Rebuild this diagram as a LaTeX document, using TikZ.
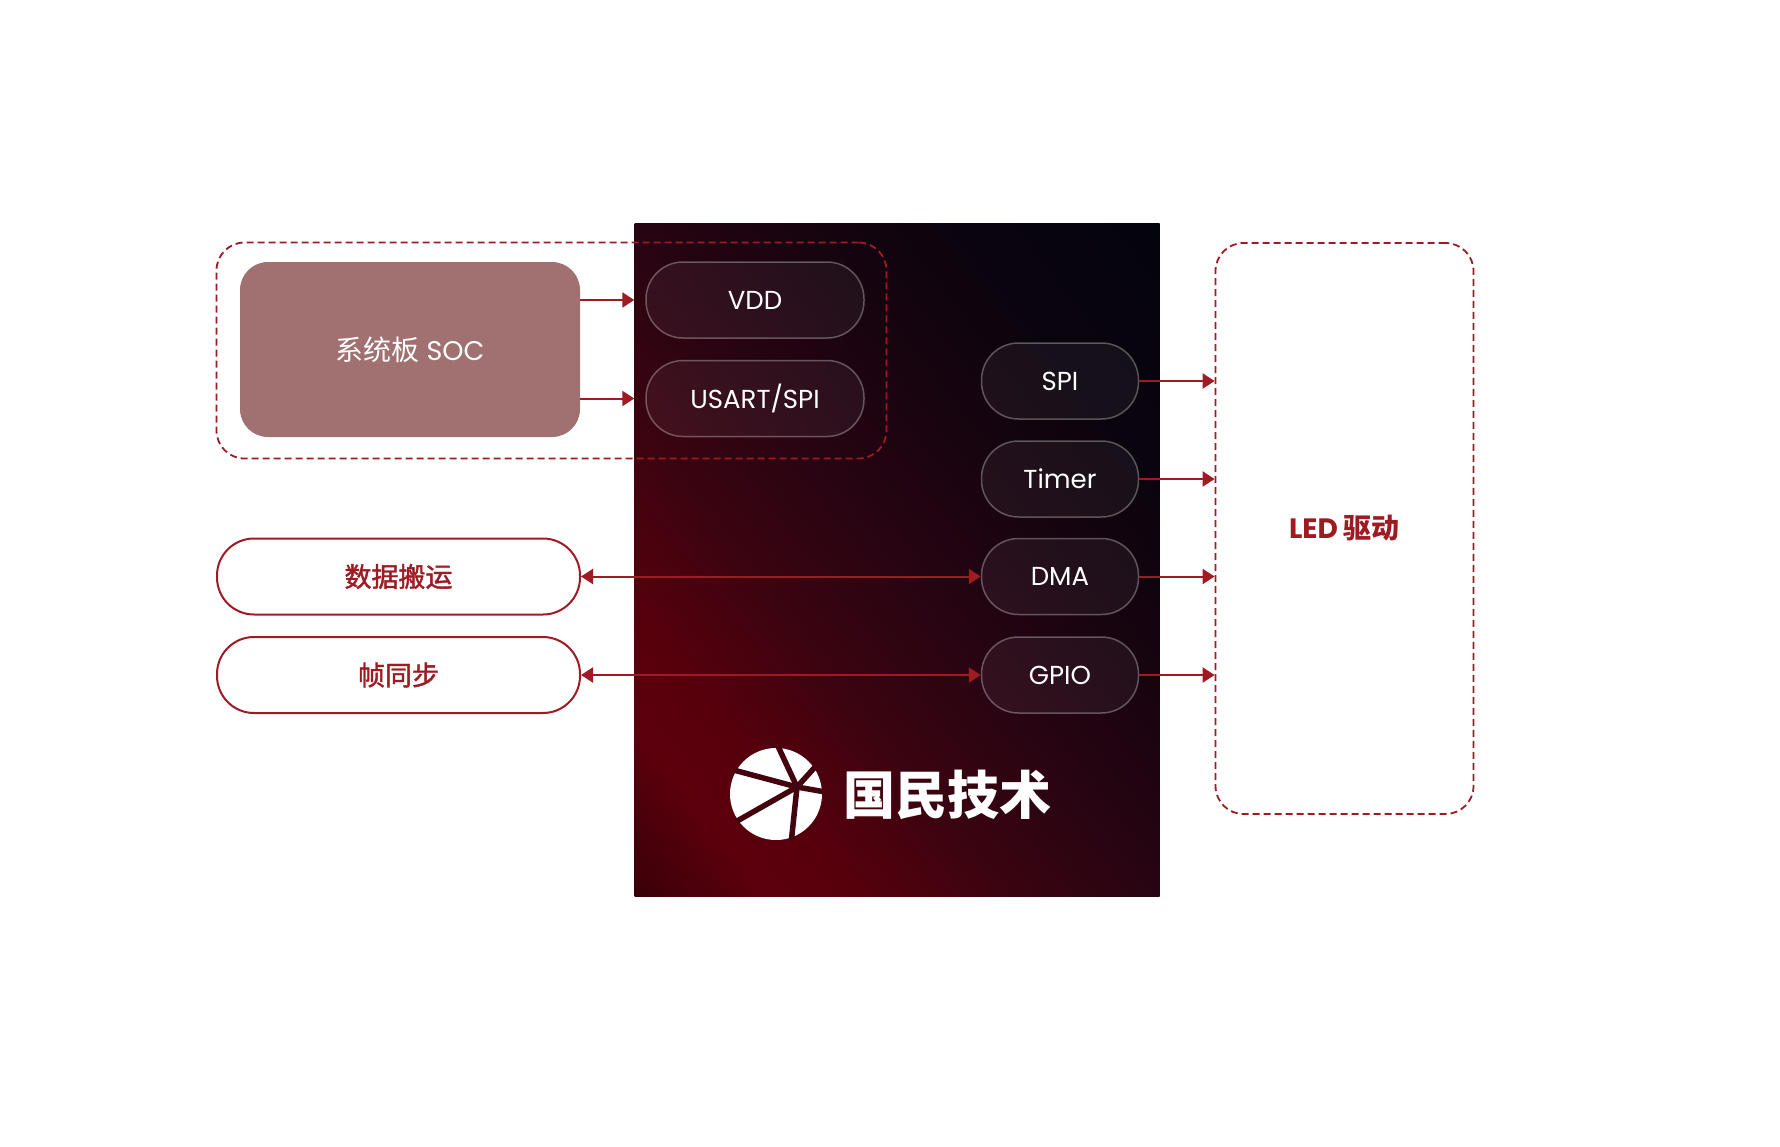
\documentclass[tikz,border=0pt]{standalone}
\usepackage{fontspec}
\setmainfont{Poppins}
\newfontfamily\cjk{Noto Sans CJK SC}
\newfontfamily\cjkmed[FakeBold=1.5]{Noto Sans CJK SC}
\usetikzlibrary{positioning, arrows.meta}
\definecolor{NationsRed}{HTML}{9E1B24}
\definecolor{SocRose}{HTML}{A07170}
\definecolor{ChipEdge}{HTML}{3A0008}
\definecolor{ChipGlow}{HTML}{5C000C}
\definecolor{ChipHot}{HTML}{56000C}
\definecolor{ChipWarm}{HTML}{3A0410}
\definecolor{ChipMid}{HTML}{280412}
\definecolor{ChipDeep}{HTML}{18040F}
\definecolor{ChipNight}{HTML}{0A040E}
\definecolor{ChipBlack}{HTML}{04040C}
\definecolor{LogoGap}{HTML}{44040F}
\pgfdeclarehorizontalshading{chipfade}{100bp}{color(0bp)=(ChipEdge); color(15bp)=(ChipEdge); color(24bp)=(ChipGlow); color(30bp)=(ChipHot); color(40bp)=(ChipWarm); color(50bp)=(ChipMid); color(60bp)=(ChipDeep); color(72bp)=(ChipNight); color(85bp)=(ChipBlack); color(100bp)=(ChipBlack)}

\begin{document}
\begin{tikzpicture}[x=1pt, y=-1pt,
    sig/.style={NationsRed, line width=2pt, -{Triangle[length=12pt,width=15pt]}},
    duplex/.style={NationsRed, line width=2pt, {Triangle[length=12pt,width=15pt]}-{Triangle[length=12pt,width=15pt]}},
    dashgroup/.style={draw=NationsRed, line width=1.8pt, dash pattern=on 7pt off 4pt, rounded corners=28pt, inner sep=0pt},
    pill/.style={draw=white, draw opacity=0.3, fill=white, fill opacity=0.05, text opacity=1, text=white, line width=1.5pt, rounded corners=37pt, minimum height=76pt, inner sep=0pt, font=\fontsize{26}{30}\selectfont},
    task/.style={draw=NationsRed, fill=white, text=NationsRed, line width=2pt, rounded corners=37pt, minimum width=363pt, minimum height=76pt, inner sep=0pt, font=\cjkmed\fontsize{27}{32}\selectfont}]
    \fill[white] (0,0) rectangle (1780,1146);

    % chip body
    \node[shading=chipfade, shading angle=38, minimum width=525pt, minimum height=673pt, inner sep=0pt] (chip) at (897,560) {};

    % system board side
    \node[dashgroup, minimum width=670pt, minimum height=216pt] (socgroup) at (551.5,350.5) {};
    \node[fill=SocRose, rounded corners=28pt, minimum width=340pt, minimum height=175pt, text=white, font=\fontsize{27}{30}\selectfont] (soc) at (410,349.5) {{\cjk\fontsize{28}{32}\selectfont 系统板} SOC};
    \node[pill, minimum width=218pt] (vdd) at (755,300) {VDD};
    \node[pill, minimum width=218pt] (usart) at (755,398.5) {USART/SPI};

    % peripherals
    \node[pill, minimum width=157pt] (spi) at (1060,381) {SPI};
    \node[pill, minimum width=157pt] (timer) at (1060,479) {Timer};
    \node[pill, minimum width=157pt] (dma) at (1060,576.5) {DMA};
    \node[pill, minimum width=157pt] (gpio) at (1060,675) {GPIO};

    \node[task] (move) at (398.5,576.5) {数据搬运};
    \node[task] (frame) at (398.5,675) {帧同步};

    \node[dashgroup, minimum width=258pt, minimum height=571pt, text=NationsRed, font=\bfseries\fontsize{28}{32}\selectfont] (led) at (1344.5,528.5) {LED {\cjk\bfseries 驱动}};

    \draw[sig] (soc.east |- vdd) -- (chip.west |- vdd);
    \draw[sig] (soc.east |- usart) -- (chip.west |- usart);
    \draw[duplex] (move) -- (dma);
    \draw[duplex] (frame) -- (gpio);
    \foreach \p in {spi, timer, dma, gpio}
        \draw[sig] (\p.east) -- (led.west |- \p);

    % logo
    \fill[white] (776,794) circle[radius=46pt];
    \begin{scope}
        \clip (776,794) circle[radius=48pt];
        \foreach \a in {165, 209.6, 264, 350, 115, 48}
            \draw[LogoGap, line width=5.5pt] (797,787) -- ++(\a:90pt);
    \end{scope}
    \node[anchor=west, text=white, inner sep=0pt, font=\cjk\bfseries\fontsize{52}{56}\selectfont] (brand) at (843,795) {国民技术};
\end{tikzpicture}
\end{document}
